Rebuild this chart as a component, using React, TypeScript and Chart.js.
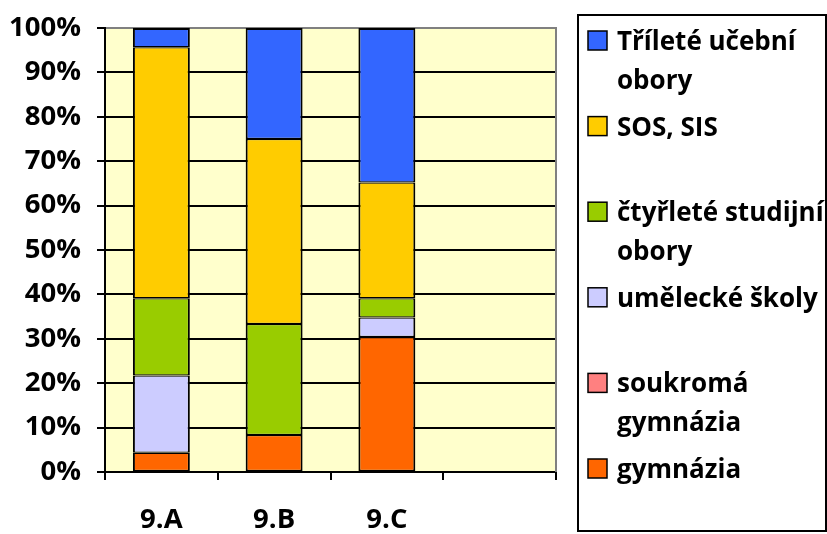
import React, { useEffect, useRef } from "react";
import { Chart, registerables } from "chart.js";

Chart.register(...registerables);

const categories = ["9.A", "9.B", "9.C", ""];
const gymnazia = [4.35, 8.33, 30.43, 0];
const soukromaGymnazia = [0, 0, 0, 0];
const umeleckeSkoly = [17.39, 0, 4.35, 0];
const ctyrleteObory = [17.39, 25, 4.35, 0];
const sosSis = [56.52, 41.67, 26.09, 0];
const trileteObory = [4.35, 25, 34.78, 0];
const yTicks = [0, 10, 20, 30, 40, 50, 60, 70, 80, 90, 100];

const FONT = "'Open Sans'";

const plotBg = {
  id: "plotBg",
  beforeDraw(chart: any) {
    const { ctx, chartArea: a } = chart;
    ctx.save();
    ctx.fillStyle = "#FFFFCC";
    ctx.fillRect(a.left, a.top, a.right - a.left, a.bottom - a.top);
    ctx.restore();
  },
  afterDraw(chart: any) {
    const { ctx, chartArea: a } = chart;
    ctx.save();
    ctx.strokeStyle = "#808080";
    ctx.lineWidth = 2;
    ctx.beginPath();
    ctx.moveTo(a.right, a.top - 1);
    ctx.lineTo(a.right, a.bottom);
    ctx.stroke();
    ctx.restore();
  },
};

const sideLegend = {
  id: "sideLegend",
  afterDraw(chart: any, _args: any, opts: any) {
    const ctx = chart.ctx;
    ctx.save();
    ctx.lineWidth = 2;
    ctx.strokeStyle = "#000";
    ctx.strokeRect(opts.x, opts.y, opts.w, opts.h);
    ctx.font = `bold ${opts.fontSize}px ${FONT}`;
    ctx.textBaseline = "alphabetic";
    ctx.textAlign = "left";
    const ds = chart.data.datasets.slice().reverse();
    ds.forEach((d: any, i: number) => {
      const cy = opts.firstY + i * opts.step;
      const s = opts.box;
      ctx.fillStyle = d.backgroundColor;
      ctx.fillRect(opts.boxX, cy - s / 2, s, s);
      ctx.lineWidth = 1.5;
      ctx.strokeStyle = "#000";
      ctx.strokeRect(opts.boxX, cy - s / 2, s, s);
      const words = String(d.label).split(" ");
      const lines: string[] = [];
      let cur = "";
      words.forEach((w) => {
        const t = cur ? cur + " " + w : w;
        if (cur && ctx.measureText(t).width > opts.maxW) {
          lines.push(cur);
          cur = w;
        } else cur = t;
      });
      if (cur) lines.push(cur);
      ctx.fillStyle = "#000";
      lines.forEach((ln, j) => {
        ctx.fillText(ln, opts.textX, cy + opts.baseOff + j * opts.lineH);
      });
    });
    ctx.restore();
  },
};

export default function App() {
  const ref = useRef<HTMLCanvasElement | null>(null);
  useEffect(() => {
    if (!ref.current) return;
    const tickFont = { family: FONT, size: 27.5, weight: "bold" as const };
    const mk = (label: string, data: number[], color: string, isTop = false) => ({
      label,
      data: data.map((v) => (v === 0 ? null : v)),
      backgroundColor: color,
      borderColor: "#000",
      borderWidth: { left: 2, right: 2, top: isTop ? 2 : 1.25, bottom: 1.25 },
      borderSkipped: false,
      categoryPercentage: 1,
      barPercentage: 0.505,
    });
    const chart = new Chart(ref.current, {
      type: "bar",
      data: {
        labels: categories,
        datasets: [
          mk("gymnázia", gymnazia, "#FF6600"),
          mk("soukromá gymnázia", soukromaGymnazia, "#FF8080"),
          mk("umělecké školy", umeleckeSkoly, "#CCCCFF"),
          mk("čtyřleté studijní obory", ctyrleteObory, "#99CC00"),
          mk("SOS, SIS", sosSis, "#FFCC00"),
          mk("Tříleté učební obory", trileteObory, "#3366FF", true),
        ] as any,
      },
      options: {
        responsive: false,
        animation: false,
        layout: { padding: { left: 0, top: 28, right: 271, bottom: 0 } },
        plugins: {
          legend: { display: false },
          tooltip: { enabled: false },
          sideLegend: {
            x: 578,
            y: 15,
            w: 248,
            h: 516,
            boxX: 588,
            box: 19,
            textX: 617,
            firstY: 40.5,
            step: 85.6,
            baseOff: 9.5,
            lineH: 39,
            maxW: 212,
            fontSize: 26,
          },
        } as any,
        scales: {
          x: {
            stacked: true,
            offset: true,
            grid: {
              offset: true,
              drawOnChartArea: false,
              drawTicks: true,
              tickLength: 8,
              color: "#000",
              lineWidth: 2,
            },
            border: { display: true, color: "#000", width: 2 },
            ticks: { font: tickFont, color: "#000", padding: 24, maxRotation: 0 },
            afterFit(axis: any) {
              axis.height = 62;
              axis.paddingLeft = 0;
              axis.paddingRight = 0;
            },
          },
          y: {
            stacked: true,
            min: 0,
            max: 100,
            afterBuildTicks(axis: any) {
              axis.ticks = yTicks.map((v) => ({ value: v }));
            },
            grid: {
              color: (c: any) => (c.tick && c.tick.value === 100 ? "#808080" : "#000"),
              tickColor: "#000",
              lineWidth: 2,
              tickLength: 8,
              drawTicks: true,
            },
            border: { display: true, color: "#000", width: 2 },
            ticks: {
              font: tickFont,
              color: "#000",
              padding: 16,
              callback: (v: any) => v + "%",
            },
            afterFit(axis: any) {
              axis.width = 105;
              axis.paddingTop = 0;
              axis.paddingBottom = 0;
            },
          },
        },
      },
      plugins: [plotBg, sideLegend],
    });
    return () => chart.destroy();
  }, []);
  return (
    <div style={{ position: "fixed", left: 0, top: 0, width: 827, height: 534, background: "#fff" }}>
      <canvas ref={ref} width={827} height={534} style={{ display: "block" }} />
    </div>
  );
}
